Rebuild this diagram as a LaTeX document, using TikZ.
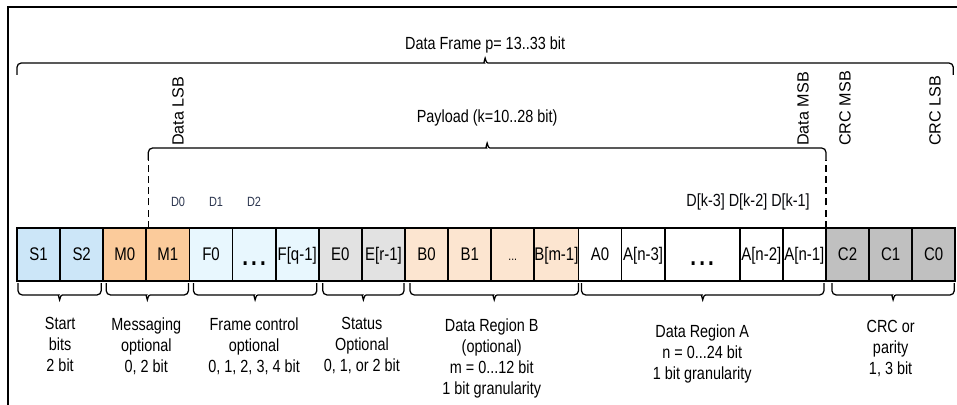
\documentclass[tikz,border=0pt]{standalone}
\usepackage{fontspec}
\setmainfont[FakeStretch=0.82]{Liberation Sans}
\newfontfamily\widesans{Liberation Sans}
\usepackage{tikz}
\usetikzlibrary{positioning, calc}
\usepackage{color}

\definecolor{startblue}{RGB}{204,230,248}
\definecolor{msgorange}{RGB}{251,203,155}
\definecolor{fctrlcyan}{RGB}{232,247,254}
\definecolor{statgrey}{RGB}{226,226,226}
\definecolor{regbpeach}{RGB}{252,229,208}
\definecolor{crcgrey}{RGB}{192,192,192}
\definecolor{dlabel}{RGB}{45,55,80}

\tikzset{
  cell/.style={draw, line width=1.2pt, minimum width=1.0775cm, minimum height=1.325cm,
    inner sep=0pt, outer sep=0pt, text height=8.6pt, text depth=0pt,
    font=\fontsize{13}{14}\selectfont},
  brc/.style={line width=0.9pt, rounded corners=3pt, to path={
    let \p1=(\tikztostart), \p2=(\tikztotarget), \n1={(\x1+\x2)/2} in
    -- (\x1,{\y1+#1*8.5pt}) -- ({\n1-3.5pt},{\y1+#1*8.5pt}) [sharp corners]
    .. controls ({\n1-1pt},{\y1+#1*8.5pt}) .. (\n1,{\y1+#1*12pt})
    .. controls ({\n1+1pt},{\y1+#1*8.5pt}) .. ({\n1+3.5pt},{\y1+#1*8.5pt}) [rounded corners=3pt]
    -- (\x2,{\y2+#1*8.5pt}) -- (\x2,\y2)}},
  lbl/.style={align=center, anchor=north, inner sep=0pt, font=\fontsize{12.5}{15}\selectfont},
  bitlbl/.style={font=\fontsize{9.5}{10}\selectfont, text=dlabel, inner sep=0pt},
  sidelbl/.style={rotate=90, anchor=west, inner sep=0pt, font=\widesans\fontsize{11.5}{12}\selectfont},
  dashln/.style={line width=1.1pt, dash pattern=on 5pt off 3pt},
}
\newcommand{\bigdots}{\raisebox{-3.5pt}{\fontsize{18}{18}\selectfont\bfseries .\hspace{2.2pt}.\hspace{2.2pt}.}}

\begin{document}
\begin{tikzpicture}[x=0.025cm, y=0.025cm, font=\fontsize{12.5}{15}\selectfont]
  \useasboundingbox (0,0) rectangle (957,405);
  \draw[line width=1.4pt] (8,0) -- (8,398) -- (957,398);

  % the bit cells
  \node[cell, fill=startblue, anchor=west] (s1) at (17,150.5) {S1};
  \node[cell, fill=startblue, right=0pt of s1] (s2) {S2};
  \node[cell, fill=msgorange, right=0pt of s2] (m0) {M0};
  \node[cell, fill=msgorange, right=0pt of m0] (m1) {M1};
  \node[cell, fill=fctrlcyan, right=0pt of m1] (f0) {F0};
  \node[cell, fill=fctrlcyan, right=0pt of f0] (fdots) {\bigdots};
  \node[cell, fill=fctrlcyan, right=0pt of fdots] (fq) {F[q-1]};
  \node[cell, fill=statgrey, right=0pt of fq] (e0) {E0};
  \node[cell, fill=statgrey, right=0pt of e0] (er) {E[r-1]};
  \node[cell, fill=regbpeach, right=0pt of er] (b0) {B0};
  \node[cell, fill=regbpeach, right=0pt of b0] (b1) {B1};
  \node[cell, fill=regbpeach, right=0pt of b1] (bdots) {\small ...};
  \node[cell, fill=regbpeach, right=0pt of bdots] (bm) {B[m-1]};
  \node[cell, fill=white, right=0pt of bm] (a0) {A0};
  \node[cell, fill=white, right=0pt of a0] (an3) {A[n-3]};
  \node[cell, fill=white, minimum width=1.875cm, right=0pt of an3] (adots) {\bigdots};
  \node[cell, fill=white, right=0pt of adots] (an2) {A[n-2]};
  \node[cell, fill=white, right=0pt of an2] (an1) {A[n-1]};
  \node[cell, fill=crcgrey, right=0pt of an1] (c2) {C2};
  \node[cell, fill=crcgrey, right=0pt of c2] (c1) {C1};
  \node[cell, fill=crcgrey, right=0pt of c1] (c0) {C0};

  % whole frame
  \coordinate (dfl) at ($(s1.north west)+(0,153)$);
  \coordinate (dfr) at ($(c0.north east)+(-2,153)$);
  \draw[brc=1] (dfl) to (dfr);
  \node (dframe) at ($(dfl)!.5!(dfr)+(0,30)$) {Data Frame p= 13..33 bit};

  % payload
  \coordinate (plb) at ($(m1.north west)+(2,0)$);
  \coordinate (pll) at ($(plb)+(0,68)$);
  \coordinate (plr) at ($(an1.north east)+(0,68)$);
  \draw[dashln] (plb) -- (pll);
  \draw[dashln] (an1.north east) -- (plr);
  \draw[brc=1] (pll) to (plr);
  \node (payload) at ($(pll)!.5!(plr)+(0,42)$) {Payload (k=10..28 bit)};

  \node[sidelbl] (dlsb) at (178,259) {Data LSB};
  \node[sidelbl] (dmsb) at (803,259) {Data MSB};
  \node[sidelbl] (cmsb) at (845,259) {CRC MSB};
  \node[sidelbl] (clsb) at (935,259) {CRC LSB};

  \node[bitlbl] (d0) at (178,203) {D0};
  \node[bitlbl] (d1) at (216,203) {D1};
  \node[bitlbl] (d2) at (254,203) {D2};
  \node[anchor=east, inner sep=0pt, text=black!85!dlabel] (dk) at (810,203) {D[k-3] D[k-2] D[k-1]};

  % field braces
  \draw[brc=-1] ($(s1.south west)+(1,-2)$) to ($(s2.south east)+(-2,-2)$);
  \draw[brc=-1] ($(m0.south west)+(3,-2)$) to ($(m1.south east)+(-1,-2)$);
  \draw[brc=-1] ($(f0.south west)+(4,-2)$) to ($(fq.south east)+(-2,-2)$);
  \draw[brc=-1] ($(e0.south west)+(4,-2)$) to ($(er.south east)+(-1,-2)$);
  \draw[brc=-1] ($(b0.south west)+(5,-2)$) to ($(bm.south east)+(0,-2)$);
  \draw[brc=-1] ($(a0.south west)+(3,-2)$) to ($(an1.south east)+(-2,-2)$);
  \draw[brc=-1] ($(c2.south west)+(6,-2)$) to ($(c0.south east)+(-1,-2)$);

  \node[lbl] (startlbl) at ($(s1.south west)!.5!(s2.south east)+(0,-36)$) {Start\\bits\\2 bit};
  \node[lbl] (msglbl) at ($(m0.south west)!.5!(m1.south east)+(0,-36)$) {Messaging\\optional\\0, 2 bit};
  \node[lbl] (fclbl) at ($(f0.south west)!.5!(fq.south east)+(0,-36)$) {Frame control\\optional\\0, 1, 2, 3, 4 bit};
  \node[lbl] (statlbl) at ($(e0.south west)!.5!(er.south east)+(0,-36)$) {Status\\Optional\\0, 1, or 2 bit};
  \node[lbl] (reglblb) at ($(b0.south west)!.5!(bm.south east)+(0,-37)$) {Data Region B\\(optional)\\m = 0...12 bit\\1 bit granularity};
  \node[lbl] (reglbla) at ($(a0.south west)!.5!(an1.south east)+(0,-43)$) {Data Region A\\n = 0...24 bit\\1 bit granularity};
  \node[lbl] (crclbl) at ($(c2.south west)!.5!(c0.south east)+(0,-39)$) {CRC or\\parity\\1, 3 bit};
\end{tikzpicture}
\end{document}
